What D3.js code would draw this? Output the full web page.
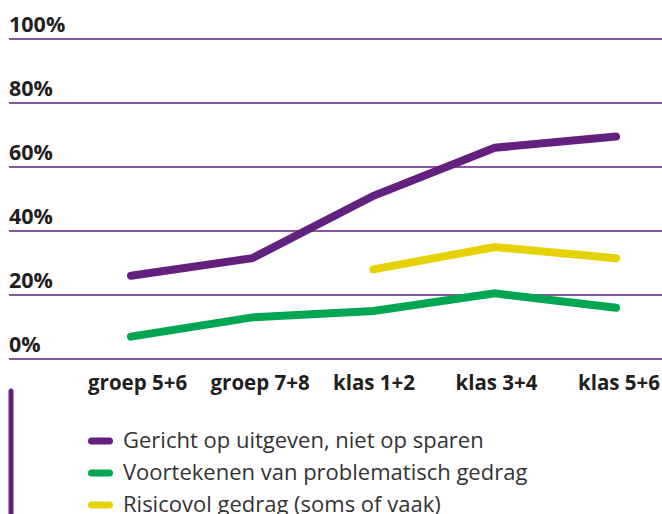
<!DOCTYPE html>
<html><head><meta charset="utf-8">
<script src="https://cdn.jsdelivr.net/npm/d3@7"></script>
<style>body{margin:0;background:#fff}svg{display:block}</style>
</head><body>
<svg id="c" width="662" height="514"></svg>
<script>
const categories = ["groep 5+6","groep 7+8","klas 1+2","klas 3+4","klas 5+6"];
const uitgeven = [26, 31.5, 51, 66, 69.5];
const voortekenen = [7, 13, 15, 20.5, 16];
const risicovol = [null, null, 28, 35, 31.5];
const yTicks = [0, 20, 40, 60, 80, 100];
const seriesNames = ["Gericht op uitgeven, niet op sparen","Voortekenen van problematisch gedrag","Risicovol gedrag (soms of vaak)"];
const seriesColors = ["#64207f","#00a651","#e6d200"];

const svg = d3.select("#c");
const y = d3.scaleLinear().domain([0,100]).range([359,39]);
const x = d3.scalePoint().domain(categories).range([131,616]);
const xl = d3.scalePoint().domain(categories).range([88,578]);
const font = "'Open Sans', sans-serif";

// gridlines and tick labels
const g = svg.append("g");
g.selectAll("line.grid").data(yTicks).join("line")
  .attr("x1",9).attr("x2",662)
  .attr("y1",d=>y(d)).attr("y2",d=>y(d))
  .attr("stroke","#64207f").attr("stroke-width",1.6);
g.selectAll("text.tick").data(yTicks).join("text")
  .attr("x",9).attr("y",d=>y(d)-7)
  .attr("font-family",font).attr("font-weight",700).attr("font-size",21.5)
  .attr("fill","#231f20").text(d=>d+"%");

// x labels
svg.selectAll("text.cat").data(categories).join("text")
  .attr("x",d=>xl(d)).attr("y",390)
  .attr("font-family",font).attr("font-weight",700).attr("font-size",20.5)
  .attr("fill","#231f20").text(d=>d);

// lines
const line = d3.line().defined(d=>d.v!=null).x(d=>x(d.c)).y(d=>y(d.v));
[uitgeven, voortekenen, risicovol].forEach((arr,i)=>{
  const data = arr.map((v,j)=>({c:categories[j],v}));
  svg.append("path").datum(data).attr("d",line)
    .attr("fill","none").attr("stroke",seriesColors[i]).attr("stroke-width",8)
    .attr("stroke-linecap","round").attr("stroke-linejoin","miter");
});

// left bar
svg.append("line").attr("x1",11).attr("x2",11).attr("y1",391).attr("y2",520)
  .attr("stroke","#64207f").attr("stroke-width",5).attr("stroke-linecap","round");

// legend
const lg = svg.selectAll("g.leg").data(seriesNames).join("g")
  .attr("transform",(d,i)=>`translate(0,${441+i*32})`);
lg.append("line").attr("x1",91.5).attr("x2",109.5).attr("y1",0).attr("y2",0)
  .attr("stroke",(d,i)=>seriesColors[i]).attr("stroke-width",7).attr("stroke-linecap","round");
lg.append("text").attr("x",123).attr("y",6.5)
  .attr("font-family",font).attr("font-size",22).attr("fill","#333")
  .text(d=>d);
</script>
</body></html>
